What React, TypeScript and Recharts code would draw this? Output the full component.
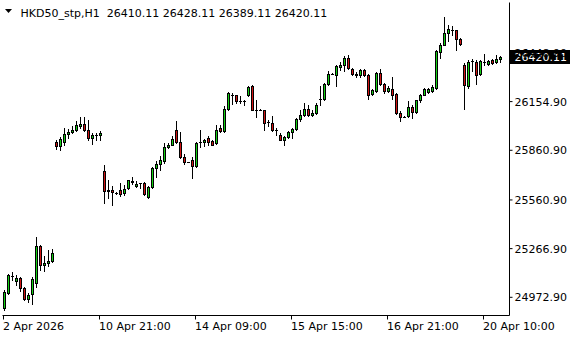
import { ComposedChart, Bar, XAxis, YAxis, ReferenceLine } from 'recharts';

// hourly OHLC
const opens = [
  24906.5, 24997.1, 25097.3, 25067.1, 25085.3, 25027.3, 24960.8, 24992.8, 25057.5, 25278.5, 25163.8, 25175.9, 25190.3,
  25909.1, 25882.5, 25906.7, 25955.0, 25969.5, 25983.4, 26003.3, 26019.6, 25983.4, 25933.3, 25953.2, 25951.4,
  25731.5, 25621.0, 25621.0, 25601.1, 25615.0, 25601.1, 25631.3, 25669.3, 25643.3, 25661.5, 25661.5, 25576.9,
  25634.9, 25752.1, 25776.2, 25794.3, 25876.5, 25892.8, 25977.4, 25909.1, 25818.5, 25787.1, 25796.2, 25761.7,
  25906.7, 25909.1, 25933.3, 25912.7, 25903.1, 25993.7, 25973.1, 26108.4, 26193.0, 26188.8, 26154.3, 26154.3,
  26190.6, 26244.9, 26104.2, 26104.2, 26098.2, 26029.9, 26023.9, 25983.4, 25953.2, 25923.0, 25939.3, 25967.1,
  25987.6, 26048.0, 26074.0, 26108.4, 26074.0, 26084.3, 26166.4, 26168.8, 26261.2, 26321.6, 26315.6, 26362.1,
  26371.8, 26416.5, 26350.0, 26319.8, 26309.6, 26345.8, 26315.6, 26199.0, 26214.7, 26325.9, 26259.4, 26214.7,
  26229.2, 26199.0, 26084.3, 26060.1, 26066.1, 26120.5, 26087.9, 26158.6, 26193.0, 26208.7, 26214.7, 26235.3,
  26450.3, 26495.0, 26567.5, 26587.4, 26583.2, 26531.2, 26376.0, 26244.9, 26395.9, 26392.3, 26319.8, 26392.3,
  26380.2, 26400.2, 26389.9, 26410.11,
];
const highs = [
  25011.0, 25113.6, 25125.7, 25105.8, 25095.5, 25035.1, 24997.1, 25089.5, 25332.9, 25282.8, 25218.1, 25258.6, 25262.8,
  25918.8, 25936.9, 25993.7, 25987.6, 26003.3, 26033.5, 26055.9, 26061.9, 26037.8, 25963.5, 25963.5, 25973.1,
  25767.8, 25681.4, 25640.9, 25608.9, 25661.5, 25651.2, 25681.4, 25697.7, 25671.1, 25663.0, 25667.5, 25640.9,
  25759.9, 25791.9, 25822.1, 25903.1, 25903.1, 25942.9, 26033.5, 25965.3, 25838.4, 25790.1, 25816.1, 25906.7,
  25979.2, 25927.2, 25942.9, 25923.0, 26013.6, 26007.6, 26124.1, 26208.7, 26205.1, 26194.8, 26184.5, 26164.6,
  26244.9, 26249.2, 26164.6, 26106.0, 26104.2, 26043.8, 26063.7, 25993.7, 25963.5, 25942.9, 25973.1, 25993.7,
  26054.1, 26100.0, 26144.7, 26134.4, 26104.2, 26144.7, 26244.9, 26265.5, 26335.5, 26324.0, 26370.0, 26389.9,
  26426.1, 26430.4, 26356.1, 26329.5, 26350.0, 26350.0, 26319.8, 26229.2, 26329.5, 26350.0, 26265.5, 26244.9,
  26301.7, 26205.1, 26093.9, 26062.0, 26154.3, 26128.4, 26164.6, 26200.8, 26235.3, 26232.9, 26249.2, 26462.4,
  26507.1, 26664.1, 26617.6, 26607.3, 26587.4, 26537.3, 26386.3, 26406.2, 26410.4, 26402.0, 26402.0, 26442.4,
  26406.2, 26410.4, 26436.4, 26428.11,
];
const lows = [
  24896.2, 24992.8, 25073.2, 25043.0, 25006.7, 24956.6, 24940.3, 24930.6, 25030.9, 25133.6, 25127.5, 25157.7, 25186.1,
  25868.6, 25862.6, 25892.8, 25933.3, 25963.5, 25973.1, 25993.7, 25973.1, 25918.8, 25897.0, 25918.8, 25923.0,
  25540.7, 25570.9, 25526.2, 25593.8, 25580.5, 25590.8, 25627.0, 25657.2, 25634.9, 25631.3, 25586.6, 25570.9,
  25631.3, 25695.3, 25741.8, 25782.3, 25872.9, 25888.6, 25903.1, 25812.5, 25778.0, 25784.1, 25691.7, 25758.1,
  25878.9, 25882.5, 25892.8, 25886.8, 25898.8, 25967.1, 25967.1, 26104.2, 26138.6, 26144.7, 26144.7, 26134.4,
  26184.5, 26100.0, 26060.1, 26102.0, 25979.2, 26003.3, 25973.1, 25947.2, 25918.8, 25892.8, 25933.3, 25933.3,
  25979.2, 26033.5, 26063.7, 26063.7, 26063.7, 26080.0, 26134.4, 26164.6, 26255.2, 26318.6, 26244.9, 26341.6,
  26335.5, 26350.0, 26315.6, 26301.7, 26301.7, 26305.3, 26168.8, 26188.8, 26211.1, 26255.2, 26205.1, 26208.7,
  26168.8, 26080.0, 26033.5, 26058.0, 26060.1, 26054.1, 26084.3, 26148.3, 26188.8, 26205.1, 26208.7, 26231.0,
  26416.5, 26490.8, 26516.7, 26557.2, 26462.4, 26495.0, 26110.2, 26235.3, 26335.5, 26261.2, 26315.6, 26376.0,
  26376.0, 26382.0, 26386.3, 26389.11,
];
const closes = [
  25000.7, 25101.6, 25099.7, 25085.3, 25027.3, 24960.8, 24982.6, 25081.6, 25278.5, 25163.8, 25178.3, 25190.3, 25238.7,
  25882.5, 25929.0, 25957.4, 25969.5, 25977.4, 26007.6, 26019.6, 25983.4, 25930.9, 25953.2, 25953.2, 25963.5,
  25610.7, 25610.7, 25604.7, 25601.1, 25595.0, 25627.0, 25677.2, 25671.1, 25657.2, 25661.5, 25595.0, 25637.3,
  25752.1, 25776.2, 25796.2, 25878.9, 25892.8, 25929.0, 25909.1, 25816.1, 25785.9, 25787.1, 25764.1, 25903.1,
  25909.1, 25923.0, 25906.7, 25892.8, 25983.4, 25973.1, 26110.2, 26205.1, 26194.8, 26154.3, 26154.3, 26154.3,
  26241.3, 26104.2, 26104.2, 26104.2, 26023.9, 26029.9, 25983.4, 25983.4, 25923.0, 25939.3, 25969.5, 25987.6,
  26048.0, 26074.0, 26108.4, 26074.0, 26084.3, 26134.4, 26168.8, 26261.2, 26321.6, 26321.6, 26365.7, 26376.0,
  26416.5, 26356.1, 26319.8, 26309.6, 26345.8, 26311.4, 26194.8, 26220.8, 26325.9, 26259.4, 26214.7, 26235.3,
  26194.8, 26084.3, 26060.1, 26060.1, 26120.5, 26087.9, 26158.6, 26193.0, 26229.2, 26229.2, 26241.3, 26456.3,
  26496.8, 26567.5, 26591.6, 26587.4, 26531.2, 26502.8, 26249.2, 26392.3, 26395.9, 26315.6, 26395.9, 26392.3,
  26395.9, 26386.3, 26412.2, 26420.11,
];

const timeTicks = [0, 24, 48, 72, 96, 120];
const timeLabels = ['2 Apr 2026', '10 Apr 21:00', '14 Apr 09:00', '15 Apr 15:00', '16 Apr 21:00', '20 Apr 10:00'];
const priceTicks = [24972.9, 25266.9, 25560.9, 25860.9, 26154.9, 26448.9];
const priceDomain = [24863, 26753.5];
const emptySlots = 2; // blank space right of the last bar

const FONT = 'DejaVu Sans';
const BULL = '#14d014';
const BEAR = '#d01414';

const data = [
  ...opens.map((o, i) => ({ i, o, h: highs[i], l: lows[i], c: closes[i] })),
  ...Array.from({ length: emptySlots }, (_, k) => ({ i: opens.length + k })),
];

function Candle(props: any) {
  const { x, y, width, height, payload } = props;
  if (!payload || payload.o == null) return <g />;
  const { o, h, l, c } = payload;
  const top = Math.min(y, y + height);
  const bot = Math.max(y, y + height);
  const k = h > l ? (bot - top) / (h - l) : 0;
  const py = (v: number) => Math.floor(top + (h - v) * k);
  const cx = Math.floor(x + width / 2);
  const yh = Math.floor(top);
  const yl = Math.floor(bot);
  const yo = py(o);
  const yc = py(c);
  const bTop = Math.min(yo, yc);
  const bBot = Math.max(yo, yc);
  return (
    <g shapeRendering="crispEdges">
      <rect x={cx} y={yh} width={1} height={yl - yh + 1} fill="#000" />
      <rect x={cx - 1} y={bTop} width={3} height={bBot - bTop + 1} fill="#000" />
      {bBot - bTop >= 2 && (
        <rect x={cx} y={bTop + 1} width={1} height={bBot - bTop - 1} fill={c >= o ? BULL : BEAR} />
      )}
    </g>
  );
}

function TimeTick(props: any) {
  const { x, y, payload } = props;
  const idx = timeTicks.indexOf(payload.value);
  return (
    <text x={x - 0.5} y={y} dy="0.71em" textAnchor="start" fill="#000" fontSize={11} fontFamily={FONT}>
      {timeLabels[idx]}
    </text>
  );
}

function PriceTag(props: any) {
  const vb = props.viewBox;
  if (!vb) return null;
  const left = vb.x + vb.width + 0.5;
  const cy = Math.floor(vb.y);
  return (
    <g shapeRendering="crispEdges">
      <rect x={left} y={cy - 7} width={60} height={14} fill="#000" />
      <text x={left + 4.5} y={cy} dy="0.36em" fill="#fff" fontSize={11} fontFamily={FONT}>
        {closes[closes.length - 1].toFixed(2)}
      </text>
    </g>
  );
}

export default function App() {
  const last = opens.length - 1;
  return (
    <div style={{ position: 'absolute', left: 0, top: 0, width: 580, height: 340, background: '#fff' }}>
      <ComposedChart width={580} height={340} data={data} margin={{ top: 2.5, right: 0.5, bottom: 0.5, left: 2.5 }}>
        <XAxis
          dataKey="i"
          type="category"
          ticks={timeTicks}
          interval={0}
          padding={{ left: -1, right: 0 }}
          height={24}
          tickSize={4}
          tickMargin={3}
          axisLine={{ stroke: '#000' }}
          tickLine={{ stroke: '#000' }}
          tick={<TimeTick />}
        />
        <XAxis xAxisId="frame" dataKey="i" orientation="top" height={0} tick={false} tickLine={false} axisLine={{ stroke: '#000' }} />
        <YAxis yAxisId="frame" orientation="left" width={0} tick={false} tickLine={false} axisLine={{ stroke: '#000' }} />
        <YAxis
          orientation="right"
          type="number"
          domain={priceDomain}
          allowDataOverflow
          ticks={priceTicks}
          interval={0}
          width={70}
          tickSize={3}
          tickMargin={2}
          tickFormatter={(v: number) => v.toFixed(2)}
          axisLine={{ stroke: '#000' }}
          tickLine={{ stroke: '#000' }}
          tick={{ fill: '#000', fontSize: 11, fontFamily: FONT }}
        />
        <Bar
          dataKey={(d: any) => (d.o == null ? null : [d.l, d.h])}
          barSize={3}
          shape={(p: any) => <Candle {...p} />}
          isAnimationActive={false}
        />
        <ReferenceLine y={closes[last]} stroke="none" label={(p: any) => <PriceTag {...p} />} />
      </ComposedChart>
      <svg width={580} height={22} style={{ position: 'absolute', left: 0, top: 0, pointerEvents: 'none' }}>
        <polygon points="5,9 12,9 8.5,13" fill="#000" />
        <text x={20.5} y={16.5} fill="#000" fontSize={11} fontFamily={FONT} xmlSpace="preserve" style={{ whiteSpace: 'pre' }}>
          {`HKD50_stp,H1  ${opens[last].toFixed(2)} ${highs[last].toFixed(2)} ${lows[last].toFixed(2)} ${closes[last].toFixed(2)}`}
        </text>
      </svg>
    </div>
  );
}
